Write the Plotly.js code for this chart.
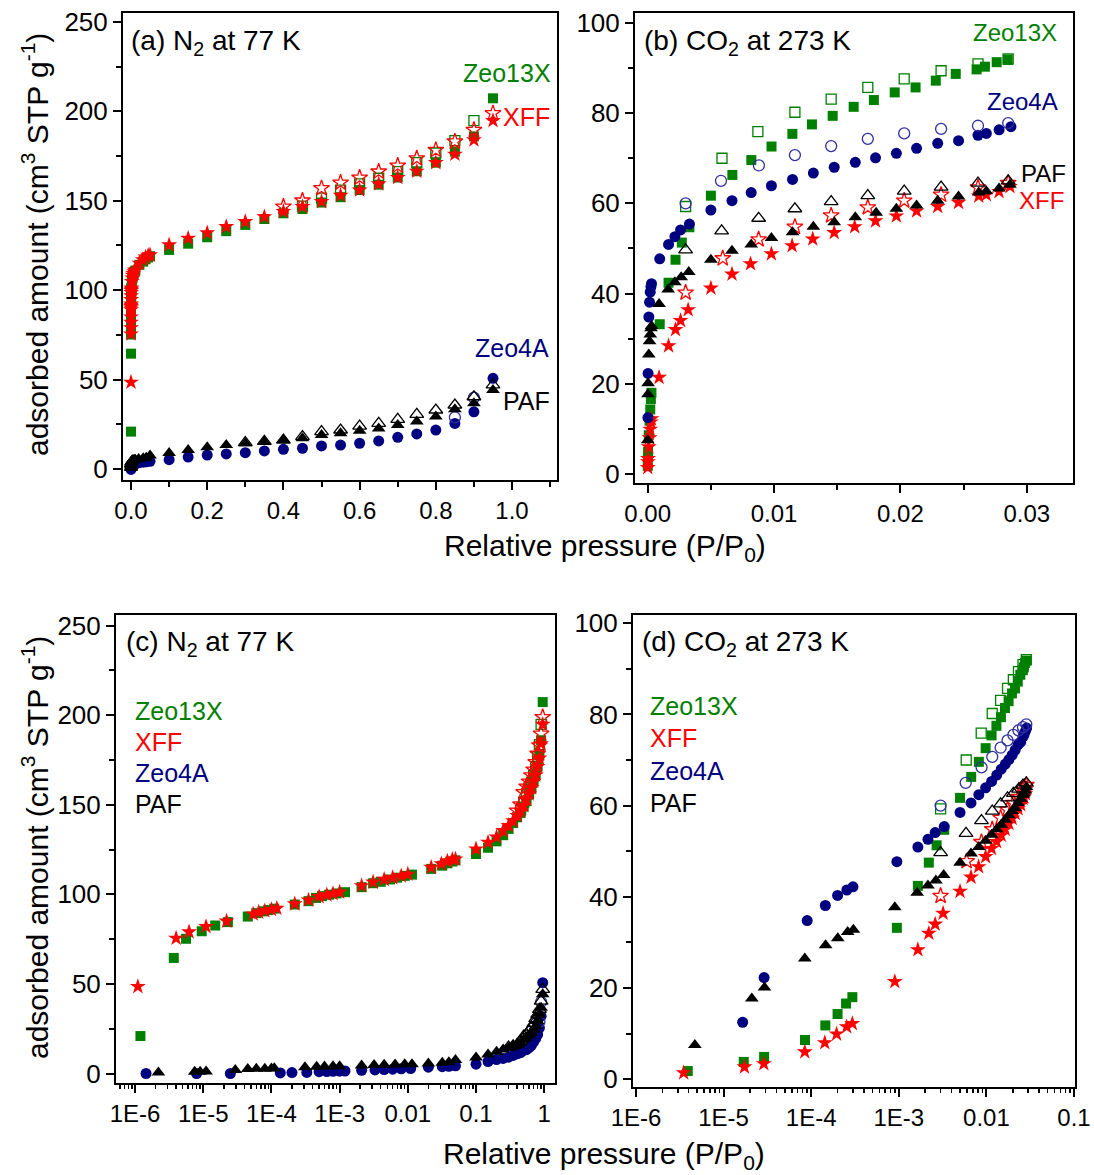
<!DOCTYPE html>
<html>
<head>
<meta charset="utf-8">
<script src="https://cdn.plot.ly/plotly-3.0.1.min.js"></script>
<style>html,body{margin:0;padding:0;background:#fff;}#chart{width:1094px;height:1175px;}</style>
</head>
<body>
<div id="chart"></div>
<script>
// ---------------- N2 at 77 K (panels a and c) ----------------
const n2Zeo13xAdsP = [1.2e-6,3.7e-6,5.6e-6,9.5e-6,1.5e-5,2.3e-5,4.5e-5,6e-5,7.5e-5,9e-5,1.1e-4,2.2e-4,3.5e-4,4.5e-4,5.5e-4,7e-4,9e-4,1.2e-3,2.1e-3,3.1e-3,4e-3,5.5e-3,7e-3,9e-3,1.15e-2,2.2e-2,3.2e-2,3.8e-2,4.5e-2,0.05,0.1,0.15,0.2,0.25,0.3,0.35,0.4,0.45,0.5,0.55,0.6,0.65,0.7,0.75,0.8,0.85,0.9,0.95];
const n2Zeo13xAdsV = [20.9,64.5,75.2,79.4,82.6,84.5,87.6,89.5,90.5,91.2,92,94.3,96.2,98,99,99.8,100.5,101.2,104,106.2,107,108.3,109.3,110.3,111,114.2,116,117.3,118.3,119,122.5,126,129.6,133,136.5,139.8,143,145.4,149,152,156,159,163,166.5,171.3,177.5,186,207.3];
const n2Zeo13xDesP = [0.9,0.85,0.8,0.75,0.7,0.65,0.6,0.55,0.5,0.45];
const n2Zeo13xDesV = [194.8,183.6,176.7,171.3,166.3,162.6,159.5,156,151.5,147];

const n2XffAdsP = [1.1e-6,4e-6,6.2e-6,1.1e-5,2.2e-5,5.4e-5,6.5e-5,8e-5,1e-4,1.2e-4,2.2e-4,3.5e-4,5e-4,6.5e-4,8e-4,1e-3,2.1e-3,3.1e-3,4.5e-3,6e-3,8e-3,1e-2,2.2e-2,3.1e-2,3.8e-2,4.5e-2,0.05,0.1,0.15,0.2,0.25,0.3,0.35,0.4,0.45,0.5,0.55,0.6,0.65,0.7,0.75,0.8,0.85,0.9,0.95];
const n2XffAdsV = [48.5,75.5,79,82,85,89,90,90.8,91.5,92.2,94.7,96.8,98.7,99.7,100.4,101.2,104.8,106.8,108.3,109.3,110.3,111.2,115,117,118.5,119.5,119.7,125.3,129,132,135.5,138.3,141,144,146.7,149.5,153,156,159.4,163,166.5,171.3,176,184,194.8];
const n2XffDesP = [0.95,0.9,0.85,0.8,0.75,0.7,0.65,0.6,0.55,0.5,0.45,0.4];
const n2XffDesV = [198.9,189.6,183.1,178.4,173.7,169.6,166.3,162.9,160.1,157.0,150.1,146.7];

const n2Zeo4aAdsP = [1.45e-6,8e-6,2.5e-5,1.35e-4,2e-4,3.3e-4,5e-4,6.5e-4,8e-4,1e-3,1.2e-3,2.1e-3,3.3e-3,4.5e-3,6e-3,8e-3,1.1e-2,2e-2,3.2e-2,4e-2,5e-2,0.1,0.15,0.2,0.25,0.3,0.35,0.4,0.45,0.5,0.55,0.6,0.65,0.7,0.75,0.8,0.85,0.9,0.95];
const n2Zeo4aAdsV = [0,0,0,0.3,0.5,0.6,1.0,1.1,1.2,1.3,1.4,1.8,2.0,2.2,2.4,2.6,2.8,3.5,3.8,4.0,4.3,5.2,6.7,7.8,8.4,9.1,10.1,11.0,11.6,12.9,13.4,14.4,15.7,17.7,19.6,21.8,25.5,32,50.7];
const n2Zeo4aDesP = [0.9,0.85];
const n2Zeo4aDesV = [39.9,28.9];

const n2PafAdsP = [2.2e-6,7.5e-6,9e-6,1.1e-5,2.95e-5,4.5e-5,6e-5,8e-5,1e-4,1.1e-4,3.1e-4,4.6e-4,6e-4,8e-4,1e-3,2.1e-3,3.2e-3,4.5e-3,6.5e-3,9e-3,1.15e-2,2e-2,3.2e-2,4e-2,5e-2,0.1,0.15,0.2,0.25,0.3,0.35,0.4,0.45,0.5,0.55,0.6,0.65,0.7,0.75,0.8,0.85,0.9,0.95];
const n2PafAdsV = [0.5,1.0,1.0,1.1,2.0,2.5,2.6,2.7,2.8,2.9,3.5,3.8,3.9,4.0,4.1,4.5,4.7,4.9,5.0,5.1,5.2,5.6,6.0,6.3,7.5,9.0,10.6,12.1,13.4,14.4,15.3,16.2,17.2,19,20,21.4,22.7,24.6,26.5,29.3,33.4,36.7,44.2];
const n2PafDesP = [0.95,0.9,0.85,0.8,0.75,0.7,0.65,0.6,0.55,0.5,0.45,0.4,0.35,0.3];
const n2PafDesV = [47,40.4,35.8,33,30.6,27.8,25.5,24,21.8,20.9,18.1,16.2,15.5,14.8];

// ---------------- CO2 at 273 K (panels b and d) ----------------
const co2Zeo13xAdsP = [3.9e-6,1.7e-5,2.9e-5,8.5e-5,1.45e-4,2.0e-4,2.5e-4,2.95e-4,9.5e-4,1.65e-3,2.2e-3,2.7e-3,3.3e-3,0.0050,0.0067,0.0082,0.0098,0.01145,0.0130,0.01464,0.0163,0.0179,0.01955,0.0212,0.0228,0.02438,0.02603,0.02669,0.02762,0.02849];
const co2Zeo13xAdsV = [1.8,3.8,4.9,8.6,11.8,14.3,16.6,18.0,33.2,42.4,47.5,51.3,54.7,61.7,66.3,69.6,72.6,75.4,77.5,79.4,81.4,82.9,84.6,85.7,87.2,88.7,89.7,90.3,91.3,91.8];
const co2Zeo13xDesP = [0.0030,0.00588,0.00872,0.01165,0.01452,0.01742,0.0203,0.02322,0.02614,0.02853];
const co2Zeo13xDesV = [59.3,70.0,75.9,80.2,83.1,85.7,87.6,89.4,90.9,92.0];

const co2XffAdsP = [3.5e-6,1.73e-5,2.88e-5,8.45e-5,1.43e-4,1.95e-4,2.54e-4,2.95e-4,9.0e-4,1.65e-3,2.2e-3,2.6e-3,3.2e-3,0.0050,0.00667,0.00814,0.00979,0.01143,0.01306,0.01476,0.01638,0.01803,0.01968,0.02128,0.02295,0.0246,0.0262,0.0268,0.02781,0.02867];
const co2XffAdsV = [1.4,2.7,3.4,6.0,8.0,9.9,11.5,12.2,21.4,28.4,32.0,34.0,36.4,41.2,44.3,46.6,48.8,50.6,52.1,53.5,54.8,56.1,57.2,58.3,59.3,60.2,61.6,61.9,62.6,63.7];
const co2XffDesP = [0.0030,0.00594,0.00878,0.01165,0.01452,0.01742,0.0203,0.02322,0.02614,0.02853];
const co2XffDesV = [40.2,47.8,52.0,54.8,57.3,59.1,60.6,61.9,63.5,64.5];

const co2Zeo4aAdsP = [1.65e-5,2.9e-5,9e-5,1.45e-4,2.0e-4,2.55e-4,3.0e-4,9.5e-4,1.65e-3,2.15e-3,2.6e-3,3.3e-3,0.0050,0.00667,0.00819,0.00979,0.01146,0.01311,0.01476,0.01643,0.01803,0.01968,0.02128,0.02295,0.0246,0.02614,0.0268,0.02781,0.02875];
const co2Zeo4aAdsV = [12.5,22.3,34.8,38.1,40.3,41.5,42.2,47.7,50.9,52.6,54.1,55.4,58.5,60.6,62.4,63.9,65.3,66.7,68.0,69.1,70.1,71.1,72.2,73.3,73.9,75.1,75.5,76.3,77.0];
const co2Zeo4aDesP = [0.0030,0.0058,0.0088,0.01165,0.01452,0.01742,0.0203,0.02322,0.02614,0.02853];
const co2Zeo4aDesV = [60.0,65.0,68.4,70.7,72.7,74.3,75.5,76.5,77.2,77.8];

const co2PafAdsP = [4.7e-6,2.1e-5,2.93e-5,8.45e-5,1.46e-4,2.01e-4,2.61e-4,3.03e-4,9.0e-4,1.62e-3,2.15e-3,2.65e-3,3.25e-3,0.0050,0.00667,0.00819,0.00979,0.01146,0.01311,0.01476,0.01643,0.01808,0.01968,0.02128,0.02295,0.0246,0.0262,0.0268,0.02781,0.02867];
const co2PafAdsV = [7.5,17.7,20.1,26.5,29.4,30.9,32.3,32.8,37.7,40.9,42.5,43.6,44.8,47.5,49.5,50.9,52.3,53.6,54.8,55.8,56.9,57.9,58.8,59.5,60.6,61.5,62.4,62.7,63.3,64.1];
const co2PafDesP = [0.0030,0.00585,0.00878,0.01165,0.01452,0.01742,0.0203,0.02322,0.02614,0.02853];
const co2PafDesV = [49.7,53.9,56.7,58.8,60.4,61.7,62.7,63.6,64.5,65.0];

// ---------------- labels ----------------
const materials = ['Zeo13X','XFF','Zeo4A','PAF'];
const materialColors = ['#008000','#FF0000','#000080','#000000'];
const panelTitles = ['(a) N<sub>2</sub> at 77 K','(b) CO<sub>2</sub> at 273 K','(c) N<sub>2</sub> at 77 K','(d) CO<sub>2</sub> at 273 K'];
const yTitle = 'adsorbed amount (cm<sup>3</sup> STP g<sup>-1</sup>)';
const xTitle = 'Relative pressure (P/P<sub>0</sub>)';
const logTickVals = [1e-6,1e-5,1e-4,1e-3,0.01,0.1,1];
const logTickText = ['1E-6','1E-5','1E-4','1E-3','0.01','0.1','1'];

// ---------------- build ----------------
const FONT = 'Liberation Sans, Arial, sans-serif';
const W = 1094, H = 1175;
const fx = p => p / W, fy = p => 1 - p / H;

const n2Sets = [
  [n2Zeo13xAdsP,n2Zeo13xAdsV,n2Zeo13xDesP,n2Zeo13xDesV],
  [n2XffAdsP,n2XffAdsV,n2XffDesP,n2XffDesV],
  [n2Zeo4aAdsP,n2Zeo4aAdsV,n2Zeo4aDesP,n2Zeo4aDesV],
  [n2PafAdsP,n2PafAdsV,n2PafDesP,n2PafDesV]
];
const co2Sets = [
  [co2Zeo13xAdsP,co2Zeo13xAdsV,co2Zeo13xDesP,co2Zeo13xDesV],
  [co2XffAdsP,co2XffAdsV,co2XffDesP,co2XffDesV],
  [co2Zeo4aAdsP,co2Zeo4aAdsV,co2Zeo4aDesP,co2Zeo4aDesV],
  [co2PafAdsP,co2PafAdsV,co2PafDesP,co2PafDesV]
];
const symFilled = ['square','star','circle','triangle-up'];
const symOpen = ['square-open','star-open','circle-open','triangle-up-open'];
const sizes = [10,12,11,12];

function tracesFor(sets, xa, ya) {
  const out = [];
  sets.forEach((s, i) => {
    out.push({x: s[0], y: s[1], type: 'scatter', mode: 'markers', xaxis: xa, yaxis: ya, showlegend: false,
      marker: {symbol: symFilled[i], size: sizes[i], color: materialColors[i], line: {width: 0}}, name: materials[i] + ' ads'});
    out.push({x: s[2], y: s[3], type: 'scatter', mode: 'markers', xaxis: xa, yaxis: ya, showlegend: false,
      marker: {symbol: symOpen[i], size: sizes[i], color: i === 2 ? '#3030a0' : materialColors[i], line: {width: 1.3}}, name: materials[i] + ' des'});
  });
  return out;
}

const data = [].concat(
  tracesFor(n2Sets, 'x', 'y'),
  tracesFor(co2Sets, 'x2', 'y2'),
  tracesFor(n2Sets, 'x3', 'y3'),
  tracesFor(co2Sets, 'x4', 'y4')
);

const baseAx = {
  showline: true, linecolor: '#000', linewidth: 2, mirror: true, showgrid: false, zeroline: false,
  ticks: 'outside', ticklen: 8, tickwidth: 2, tickcolor: '#000',
  tickfont: {family: FONT, size: 26, color: '#000'}
};
function ax(extra) { return Object.assign({}, baseAx, extra); }
const xTickFont = {family: FONT, size: 24, color: '#000'};

const layout = {
  width: W, height: H,
  margin: {l: 0, r: 0, t: 0, b: 0, pad: 0},
  paper_bgcolor: '#fff', plot_bgcolor: '#fff',
  font: {family: FONT, color: '#000'},
  xaxis: ax({domain: [fx(123), fx(557)], range: [-0.021, 1.118], anchor: 'y', dtick: 0.2, tick0: 0, tickformat: '.1f',
    minor: {ticks: 'outside', ticklen: 5, tickwidth: 2, tickcolor: '#000', dtick: 0.1}, tickfont: xTickFont}),
  yaxis: ax({domain: [fy(480), fy(13)], range: [-6.15, 255], anchor: 'x', dtick: 50, tick0: 0,
    minor: {ticks: 'outside', ticklen: 5, tickwidth: 2, tickcolor: '#000', dtick: 25}}),
  xaxis2: ax({domain: [fx(635), fx(1073)], range: [-0.001006, 0.03366], anchor: 'y2', dtick: 0.01, tick0: 0, tickformat: '.2f',
    minor: {ticks: 'outside', ticklen: 5, tickwidth: 2, tickcolor: '#000', dtick: 0.005}, tickfont: xTickFont}),
  yaxis2: ax({domain: [fy(483), fy(13)], range: [-2.0, 102.2], anchor: 'x2', dtick: 20, tick0: 0,
    minor: {ticks: 'outside', ticklen: 5, tickwidth: 2, tickcolor: '#000', dtick: 10}}),
  xaxis3: ax({domain: [fx(116), fx(555)], type: 'log', range: [-6.279, 0.158], anchor: 'y3',
    tickmode: 'array', tickvals: logTickVals, ticktext: logTickText,
    minor: {ticks: 'outside', ticklen: 4, tickwidth: 1.5, tickcolor: '#000', dtick: 'D1'}, tickfont: xTickFont}),
  yaxis3: ax({domain: [fy(1083), fy(615)], range: [-5.3, 255.9], anchor: 'x3', dtick: 50, tick0: 0,
    minor: {ticks: 'outside', ticklen: 5, tickwidth: 2, tickcolor: '#000', dtick: 25}}),
  xaxis4: ax({domain: [fx(633), fx(1075)], type: 'log', range: [-6.034, -0.989], anchor: 'y4',
    tickmode: 'array', tickvals: logTickVals, ticktext: logTickText,
    minor: {ticks: 'outside', ticklen: 4, tickwidth: 1.5, tickcolor: '#000', dtick: 'D1'}, tickfont: xTickFont}),
  yaxis4: ax({domain: [fy(1087), fy(615)], range: [-1.7, 101.8], anchor: 'x4', dtick: 20, tick0: 0,
    minor: {ticks: 'outside', ticklen: 5, tickwidth: 2, tickcolor: '#000', dtick: 10}}),
  annotations: []
};

function ann(text, x, y, opts) {
  layout.annotations.push(Object.assign({text: text, x: fx(x), y: fy(y), xref: 'paper', yref: 'paper',
    showarrow: false, xanchor: 'center', yanchor: 'middle', font: {family: FONT, size: 25, color: '#000'}}, opts || {}));
}
// panel titles
const titleFont = {family: FONT, size: 28, color: '#000'};
ann(panelTitles[0], 129, 42, {xanchor: 'left', font: titleFont});
ann(panelTitles[1], 642, 42, {xanchor: 'left', font: titleFont});
ann(panelTitles[2], 124, 643, {xanchor: 'left', font: titleFont});
ann(panelTitles[3], 640, 643, {xanchor: 'left', font: titleFont});
// axis titles
const axTitleFont = {family: FONT, size: 30, color: '#000'};
ann(yTitle, 35, 245, {textangle: -90, font: axTitleFont});
ann(yTitle, 35, 848, {textangle: -90, font: axTitleFont});
ann(xTitle, 605, 548, {font: axTitleFont});
ann(xTitle, 604, 1155, {font: axTitleFont});
// inline labels
const labA = [[507,73],[526,117],[512,348],[526,401]];
const labB = [[1015,33],[1041,201],[1022,102],[1043,174]];
const labFont = c => ({family: FONT, size: 25, color: c});
materials.forEach((m, i) => {
  ann(m, labA[i][0], labA[i][1], {font: labFont(materialColors[i])});
  ann(m, labB[i][0], labB[i][1], {font: {family: FONT, size: 24, color: materialColors[i]}});
  ann(m, 133, 711 + i * 31, {xanchor: 'left', font: labFont(materialColors[i])});
  ann(m, 648, 706 + i * 32.3, {xanchor: 'left', font: labFont(materialColors[i])});
});

Plotly.newPlot('chart', data, layout, {displayModeBar: false, staticPlot: true});
</script>
</body>
</html>
